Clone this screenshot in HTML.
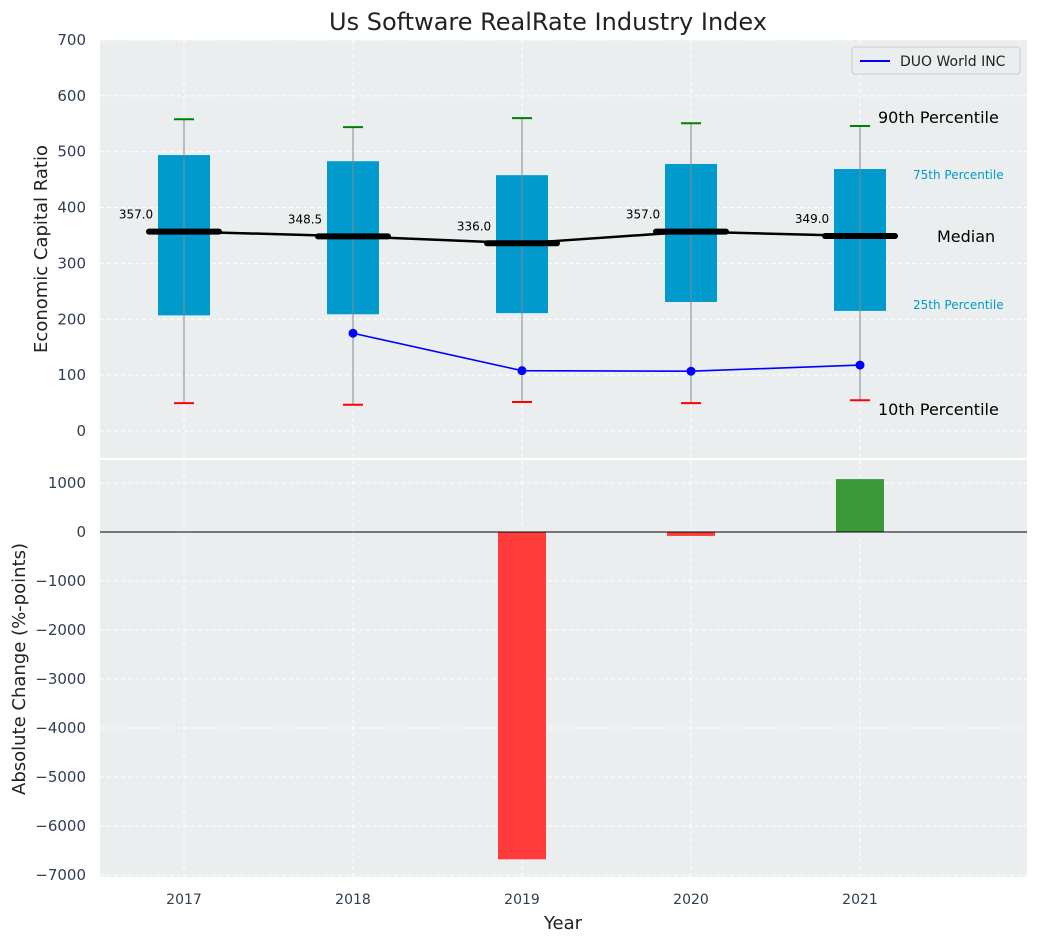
<!DOCTYPE html>
<html><head><meta charset="utf-8"><style>
body{margin:0;background:#fff;font-family:"Liberation Sans","DejaVu Sans",sans-serif}
</style></head><body>
<svg id="c" width="1039" height="942" xmlns="http://www.w3.org/2000/svg" font-family="DejaVu Sans, Liberation Sans, sans-serif"></svg>
<script>
const years=[2017,2018,2019,2020,2021];
const p10=[50,47,52,50,55];
const p25=[207,209,211,231,215];
const med=[357,348.5,336,357,349];
const p75=[494,483,458,478,469];
const p90=[558,544,560,551,546];
const duoYears=[2018,2019,2020,2021];
const duoVals=[175,108,107,118];
const chgYears=[2019,2020,2021];
const chgVals=[-6680,-80,1080];
const topTicks=[0,100,200,300,400,500,600,700];
const botTicks=[1000,0,-1000,-2000,-3000,-4000,-5000,-6000,-7000];

const svg=document.getElementById('c');
const NS='http://www.w3.org/2000/svg';
function mk(t,a,p){const e=document.createElementNS(NS,t);for(const k in a)e.setAttribute(k,a[k]);(p||svg).appendChild(e);return e;}
const L=100,R=1027;
const x=v=>184+(v-2017)*169;
const yT=v=>431-v*0.5586;
const yB=v=>532-v*0.049;
let e=mk('rect',{x:L,y:40,width:R-L,height:418,fill:'#eaeeef'});

e=mk('rect',{x:L,y:460,width:R-L,height:417,fill:'#eaeeef'});

topTicks.forEach(t=>{mk('line',{x1:L,x2:R,y1:yT(t),y2:yT(t),stroke:'#fff','stroke-dasharray':'4,3'});
 e=mk('text',{x:86,y:yT(t)+5,'text-anchor':'end','font-size':15,fill:'#2f3e52'});e.textContent=t;
 });
botTicks.forEach(t=>{mk('line',{x1:L,x2:R,y1:yB(t),y2:yB(t),stroke:'#fff','stroke-dasharray':'4,3'});
 e=mk('text',{x:86,y:yB(t)+5,'text-anchor':'end','font-size':15,fill:'#2f3e52'});e.textContent=(t<0?'−'+(-t):t);
 });
years.forEach(yr=>{mk('line',{x1:x(yr),x2:x(yr),y1:40,y2:458,stroke:'#fff','stroke-dasharray':'4,3'});
 mk('line',{x1:x(yr),x2:x(yr),y1:460,y2:877,stroke:'#fff','stroke-dasharray':'4,3'});
 e=mk('text',{x:x(yr),y:904,'text-anchor':'middle','font-size':14,fill:'#2f3e52'});e.textContent=yr;
 });
years.forEach((yr,i)=>{const cx=x(yr);
 e=mk('rect',{x:cx-26,y:yT(p75[i]),width:52,height:yT(p25[i])-yT(p75[i]),fill:'#009acd'});
 
 mk('line',{x1:cx,x2:cx,y1:yT(p90[i]),y2:yT(p10[i]),stroke:'#7f8a90','stroke-width':1});
 mk('line',{x1:cx-10,x2:cx+10,y1:yT(p90[i]),y2:yT(p90[i]),stroke:'green','stroke-width':2});
 mk('line',{x1:cx-10,x2:cx+10,y1:yT(p10[i]),y2:yT(p10[i]),stroke:'red','stroke-width':2});
});
let pts=years.map((yr,i)=>x(yr)+','+yT(med[i])).join(' ');
mk('polyline',{points:pts,fill:'none',stroke:'#000','stroke-width':2.5});
years.forEach((yr,i)=>{const cx=x(yr);
 e=mk('line',{x1:cx-35,x2:cx+35,y1:yT(med[i]),y2:yT(med[i]),stroke:'#000','stroke-width':6,'stroke-linecap':'round'});
 
 e=mk('text',{x:cx-48,y:yT(med[i])-13,'text-anchor':'middle','font-size':12,fill:'#000'});e.textContent=med[i].toFixed(1);
 
});
pts=duoYears.map((yr,i)=>x(yr)+','+yT(duoVals[i])).join(' ');
e=mk('polyline',{points:pts,fill:'none',stroke:'blue','stroke-width':1.6});

duoYears.forEach((yr,i)=>{e=mk('circle',{cx:x(yr),cy:yT(duoVals[i]),r:4.5,fill:'blue'});
 });
[['90th Percentile',878,123,16,'#000'],['75th Percentile',913,179,12,'#009acd'],['Median',937,242,16,'#000'],['25th Percentile',913,309,12,'#009acd'],['10th Percentile',878,415,16,'#000']].forEach(a=>{
 e=mk('text',{x:a[1],y:a[2],'font-size':a[3],fill:a[4]});e.textContent=a[0];
 });
e=mk('rect',{x:852,y:47,width:168,height:27,rx:3,fill:'#eaeeef',stroke:'#ccc'});

mk('line',{x1:860,x2:890,y1:61,y2:61,stroke:'blue','stroke-width':2});
e=mk('text',{x:900,y:66,'font-size':14,fill:'#222'});e.textContent='DUO World INC';

chgYears.forEach((yr,i)=>{const v=chgVals[i];
 e=mk('rect',{x:x(yr)-24,y:Math.min(yB(v),yB(0)),width:48,height:Math.abs(yB(v)-yB(0)),fill:v<0?'#ff3b3b':'#3a9a3a'});
 });
mk('line',{x1:L,x2:R,y1:yB(0),y2:yB(0),stroke:'#000','stroke-width':1});
e=mk('text',{x:548,y:30,'text-anchor':'middle','font-size':24,fill:'#222'});e.textContent='Us Software RealRate Industry Index';

e=mk('text',{x:47,y:249,'text-anchor':'middle','font-size':18,fill:'#222',transform:'rotate(-90 47 249)'});e.textContent='Economic Capital Ratio';

e=mk('text',{x:25,y:669,'text-anchor':'middle','font-size':18,fill:'#222',transform:'rotate(-90 25 669)'});e.textContent='Absolute Change (%-points)';

e=mk('text',{x:563,y:929,'text-anchor':'middle','font-size':18,fill:'#222'});e.textContent='Year';

</script>
</body></html>
